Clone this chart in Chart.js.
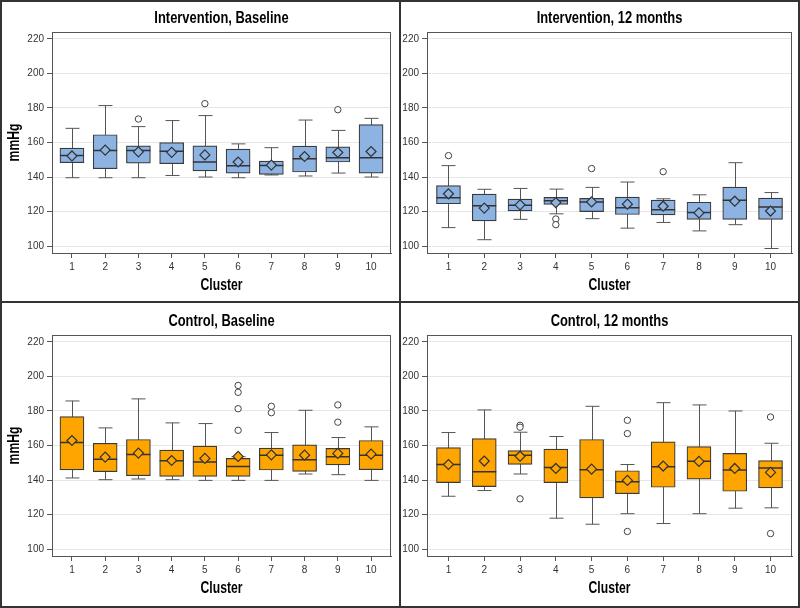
<!DOCTYPE html>
<html>
<head>
<meta charset="utf-8">
<script src="https://cdn.jsdelivr.net/npm/chart.js@4.4.0/dist/chart.umd.min.js"></script>
<style>
  body { margin: 0; background: #fff; }
  #wrap { position: relative; width: 800px; height: 608px; overflow: hidden; }
  .cell { position: absolute; width: 400px; height: 303px; }
  .line { position: absolute; background: #333; }
</style>
</head>
<body>
<div id="wrap">
  <div class="cell" style="left:0;top:0"><canvas id="c1"></canvas></div>
  <div class="cell" style="left:400px;top:0"><canvas id="c2"></canvas></div>
  <div class="cell" style="left:0;top:303px"><canvas id="c3"></canvas></div>
  <div class="cell" style="left:400px;top:303px"><canvas id="c4"></canvas></div>
  <div class="line" style="left:0;top:0;width:800px;height:2px"></div>
  <div class="line" style="left:0;bottom:0;width:800px;height:2px"></div>
  <div class="line" style="left:0;top:0;width:2px;height:608px"></div>
  <div class="line" style="right:0;top:0;width:2px;height:608px"></div>
  <div class="line" style="left:399px;top:0;width:2px;height:608px"></div>
  <div class="line" style="left:0;top:301px;width:800px;height:2px"></div>
</div>
<script>
const clusters = [1, 2, 3, 4, 5, 6, 7, 8, 9, 10];
const yTicks = [100, 120, 140, 160, 180, 200, 220];

// Intervention, Baseline
const ibLow  = [139.6, 139.6, 139.6, 140.9, 140.0, 139.6, 141.2, 140.6, 142.3, 140.0];
const ibQ1   = [148.3, 144.8, 148.0, 147.7, 143.5, 142.3, 141.5, 142.9, 148.7, 142.3];
const ibMed  = [152.4, 155.4, 155.4, 154.9, 148.7, 146.5, 146.7, 150.6, 151.2, 151.2];
const ibQ3   = [156.8, 164.5, 158.1, 159.9, 158.0, 156.2, 149.2, 157.9, 157.5, 170.4];
const ibHigh = [168.2, 181.4, 169.2, 172.7, 175.6, 159.2, 157.0, 173.0, 167.0, 174.0];
const ibMean = [152.2, 155.6, 154.6, 154.3, 152.8, 148.7, 146.9, 151.9, 154.2, 154.8];
const ibOut  = [[3, 173.6], [5, 182.5], [9, 179.0]];

// Intervention, 12 months
const i12Low  = [110.7, 103.7, 115.5, 118.7, 115.9, 110.4, 113.7, 108.8, 112.4, 98.6];
const i12Q1   = [124.5, 114.6, 120.4, 124.1, 120.0, 118.3, 118.1, 115.5, 115.5, 115.5];
const i12Med  = [128.0, 123.3, 123.7, 126.2, 125.6, 122.2, 121.0, 119.4, 126.6, 122.7];
const i12Q3   = [135.0, 130.1, 127.2, 128.2, 127.6, 128.4, 126.6, 125.4, 134.2, 127.8];
const i12High = [146.6, 132.9, 133.4, 133.0, 134.0, 137.1, 127.4, 129.7, 148.3, 131.0];
const i12Mean = [130.3, 122.0, 123.9, 125.2, 125.6, 124.3, 123.1, 119.2, 126.0, 120.3];
const i12Out  = [[1, 152.4], [4, 115.7], [4, 112.4], [5, 144.9], [7, 143.1]];

// Control, Baseline
const cbLow  = [141.2, 140.2, 140.6, 140.2, 139.8, 139.8, 139.8, 143.5, 143.1, 139.8];
const cbQ1   = [145.9, 144.8, 142.5, 142.1, 142.1, 142.1, 145.8, 145.0, 148.8, 146.0];
const cbMed  = [161.7, 152.1, 154.8, 151.2, 150.4, 147.9, 154.4, 151.7, 153.5, 154.4];
const cbQ3   = [176.7, 161.3, 163.5, 157.3, 159.6, 152.5, 158.5, 160.4, 158.3, 162.9];
const cbHigh = [185.8, 170.2, 187.0, 173.1, 172.7, 153.5, 167.5, 180.4, 164.6, 170.8];
const cbMean = [162.9, 153.3, 155.6, 151.3, 152.5, 153.7, 154.6, 154.4, 155.4, 155.0];
const cbOut  = [[6, 194.8], [6, 190.8], [6, 181.3], [6, 168.8], [7, 182.7], [7, 179.0], [9, 183.5], [9, 173.5]];

// Control, 12 months
const c12Low  = [130.6, 133.9, 143.5, 117.9, 114.4, 120.5, 114.8, 120.5, 123.7, 123.9];
const c12Q1   = [138.5, 136.2, 149.0, 138.5, 129.6, 132.1, 135.8, 140.5, 133.5, 135.4];
const c12Med  = [149.0, 144.8, 154.4, 147.3, 146.0, 139.0, 147.7, 150.9, 145.8, 146.9];
const c12Q3   = [158.8, 164.0, 157.1, 157.9, 163.5, 145.4, 162.1, 159.4, 155.4, 151.3];
const c12High = [167.5, 180.6, 167.7, 165.2, 182.7, 149.0, 184.8, 183.5, 180.0, 161.3];
const c12Mean = [149.0, 151.0, 153.8, 146.7, 146.3, 139.8, 148.1, 150.8, 146.7, 144.4];
const c12Out  = [[3, 171.7], [3, 170.6], [3, 129.1], [6, 174.6], [6, 166.9], [6, 110.2], [10, 176.5], [10, 109.0]];

const BLUE = '#8db3e2';
const ORANGE = '#ffa500';
const boldFont = '"Liberation Sans", Arial, sans-serif';
const tickFont = { family: '"Liberation Sans", Arial, sans-serif', size: 10 };
const boxW = 24;
const capW = 14;

// squeezed bold text, the original uses a narrow font
function narrowText(ctx, text, x, y, size, rot) {
  ctx.save();
  ctx.translate(x, y);
  if (rot) ctx.rotate(rot);
  ctx.scale(0.76, 1);
  ctx.fillStyle = '#000';
  ctx.font = 'bold ' + size + 'px ' + boldFont;
  ctx.textAlign = 'center';
  ctx.textBaseline = 'middle';
  ctx.fillText(text, 0, 0);
  ctx.restore();
}

// whiskers, medians, frame and titles
function boxParts(title, leftPanel, low, high, med) {
  return {
    id: 'boxParts',
    beforeDatasetsDraw(chart) {
      const { ctx, scales: { x, y } } = chart;
      ctx.save();
      ctx.strokeStyle = '#555';
      ctx.lineWidth = 1;
      ctx.beginPath();
      clusters.forEach((c, i) => {
        const px = Math.round(x.getPixelForValue(c)) + 0.5;
        const yl = y.getPixelForValue(low[i]);
        const yh = y.getPixelForValue(high[i]);
        ctx.moveTo(px, yl); ctx.lineTo(px, yh);
        ctx.moveTo(px - capW / 2, yl); ctx.lineTo(px + capW / 2, yl);
        ctx.moveTo(px - capW / 2, yh); ctx.lineTo(px + capW / 2, yh);
      });
      ctx.stroke();
      ctx.restore();
    },
    afterDatasetDraw(chart, args) {
      if (args.index !== 0) return;
      const { ctx, scales: { x, y } } = chart;
      ctx.save();
      ctx.strokeStyle = '#333';
      ctx.lineWidth = 1.5;
      ctx.beginPath();
      clusters.forEach((c, i) => {
        const px = x.getPixelForValue(c);
        const ym = y.getPixelForValue(med[i]);
        ctx.moveTo(px - boxW / 2, ym); ctx.lineTo(px + boxW / 2, ym);
      });
      ctx.stroke();
      ctx.restore();
    },
    afterDraw(chart) {
      const { ctx, chartArea: a } = chart;
      ctx.save();
      ctx.strokeStyle = '#555';
      ctx.lineWidth = 1;
      ctx.strokeRect(a.left + 0.5, a.top + 0.5, a.right - a.left - 1, a.bottom - a.top);
      ctx.restore();
      const cx = (a.left + a.right) / 2;
      narrowText(ctx, title, cx, 18, 17);
      narrowText(ctx, 'Cluster', cx, 286, 16);
      if (leftPanel) narrowText(ctx, 'mmHg', 15, (a.top + a.bottom) / 2, 16, -Math.PI / 2);
    }
  };
}

function buildPanel(id, title, color, leftPanel, low, q1, med, q3, high, mean, out) {
  new Chart(document.getElementById(id), {
    type: 'bar',
    data: {
      datasets: [
        {
          type: 'bar',
          data: clusters.map((c, i) => ({ x: c, y: [q1[i], q3[i]] })),
          backgroundColor: color,
          borderColor: '#3a3a3a',
          borderWidth: 1.2,
          borderSkipped: false,
          barThickness: boxW,
          order: 3
        },
        {
          type: 'line',
          data: out.map(o => ({ x: o[0], y: o[1] })),
          showLine: false,
          pointStyle: 'circle',
          pointRadius: 3.2,
          pointBackgroundColor: '#fff',
          pointBorderColor: '#444',
          pointBorderWidth: 1,
          order: 2
        },
        {
          type: 'line',
          data: clusters.map((c, i) => ({ x: c, y: mean[i] })),
          showLine: false,
          pointStyle: 'rectRot',
          pointRadius: 5,
          pointBackgroundColor: color,
          pointBorderColor: '#333',
          pointBorderWidth: 1.2,
          order: 1
        }
      ]
    },
    options: {
      responsive: true,
      maintainAspectRatio: false,
      animation: false,
      layout: { padding: { top: 32, right: leftPanel ? 9 : 8, left: 0, bottom: 0 } },
      plugins: { legend: { display: false }, tooltip: { enabled: false } },
      scales: {
        x: {
          type: 'linear',
          min: 0.4,
          max: 10.6,
          offset: false,
          afterBuildTicks: s => { s.ticks = clusters.map(v => ({ value: v })); },
          afterFit: s => { s.height = 50; },
          grid: { offset: false, drawOnChartArea: false, tickLength: 5, tickColor: '#555' },
          border: { color: '#555' },
          ticks: { color: '#333', font: tickFont, padding: 3, autoSkip: false, maxRotation: 0 },
          title: { display: false }
        },
        y: {
          min: 96,
          max: 224,
          afterBuildTicks: s => { s.ticks = yTicks.map(v => ({ value: v })); },
          afterFit: s => { s.width = leftPanel ? 52 : 27; },
          grid: { color: '#e6e6e6', tickLength: 5, tickColor: '#555' },
          border: { color: '#555' },
          ticks: { color: '#333', font: tickFont, padding: 3 },
          title: { display: false }
        }
      }
    },
    plugins: [boxParts(title, leftPanel, low, high, med)]
  });
}

buildPanel('c1', 'Intervention, Baseline', BLUE, true, ibLow, ibQ1, ibMed, ibQ3, ibHigh, ibMean, ibOut);
buildPanel('c2', 'Intervention, 12 months', BLUE, false, i12Low, i12Q1, i12Med, i12Q3, i12High, i12Mean, i12Out);
buildPanel('c3', 'Control, Baseline', ORANGE, true, cbLow, cbQ1, cbMed, cbQ3, cbHigh, cbMean, cbOut);
buildPanel('c4', 'Control, 12 months', ORANGE, false, c12Low, c12Q1, c12Med, c12Q3, c12High, c12Mean, c12Out);
</script>
</body>
</html>
